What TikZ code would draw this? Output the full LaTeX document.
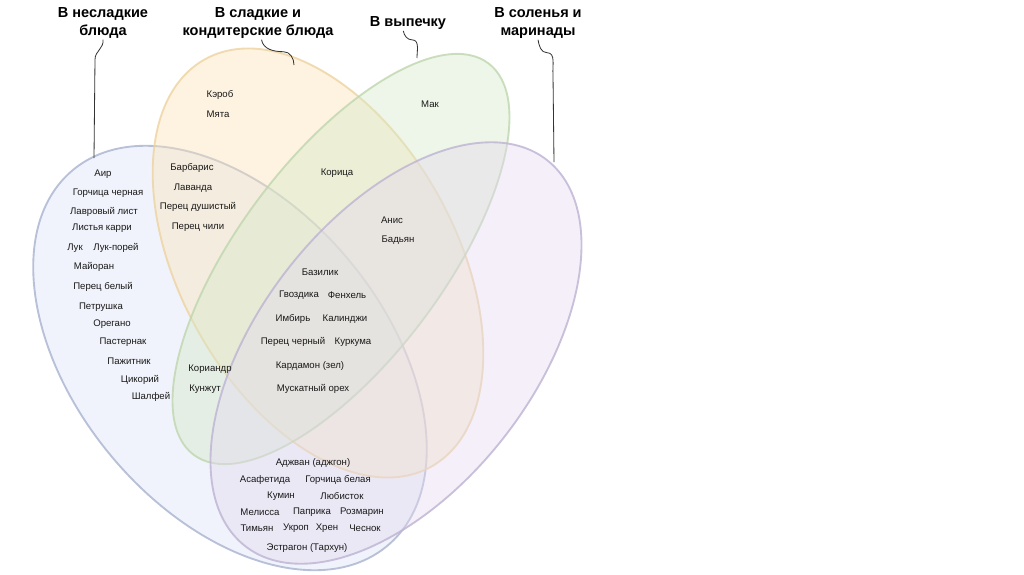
\documentclass[tikz,border=0pt]{standalone}
\usepackage{fontspec}
\setmainfont{Liberation Sans}
\usepackage{xcolor}
\usetikzlibrary{positioning}

\definecolor{bluefill}{HTML}{DCE3F6}
\definecolor{blueedge}{HTML}{A9B3CF}
\definecolor{orangefill}{HTML}{FBE2B6}
\definecolor{orangeedge}{HTML}{EDD3A0}
\definecolor{greenfill}{HTML}{D5E9C8}
\definecolor{greenedge}{HTML}{BFD6AE}
\definecolor{purplefill}{HTML}{E4D9EF}
\definecolor{purpleedge}{HTML}{BDB3D2}

\begin{document}
\begin{tikzpicture}[x=0.03cm, y=-0.03cm,
    setshape/.style={line width=1.6pt, fill opacity=0.42, draw opacity=0.8},
    blueset/.style={fill=bluefill, draw=blueedge},
    orangeset/.style={fill=orangefill, draw=orangeedge},
    greenset/.style={fill=greenfill, draw=greenedge},
    purpleset/.style={fill=purplefill, draw=purpleedge},
    settitle/.style={font=\fontsize{12.4}{15}\selectfont\bfseries, align=center, inner sep=1pt},
    spice/.style={font=\fontsize{8.2}{9}\selectfont, text=black!90, inner sep=0pt},
    callout/.style={draw=black!80, line width=0.7pt}]
\useasboundingbox (0,0) rectangle (1024,574);

% the four sets
\draw[setshape, blueset, rotate around={-50:(230,358)}] (230,358) ellipse [x radius=245, y radius=154];
\draw[setshape, orangeset, rotate around={-61:(318,263)}] (318,263) ellipse [x radius=233, y radius=138];
\draw[setshape, greenset, rotate around={53:(341,259)}] (341,259) ellipse [x radius=245, y radius=102];
\draw[setshape, purpleset, rotate around={52:(396,353)}] (396,353) ellipse [x radius=245, y radius=137];

% titles and callouts
\node[settitle] (tblue) at (103,23) {В несладкие\\блюда};
\node[settitle] (torange) at (258,23) {В сладкие и\\кондитерские блюда};
\node[settitle] (tgreen) at (408,23) {В выпечку};
\node[settitle] (tpurple) at (538,23) {В соленья и\\маринады};

\coordinate (eblue) at (94,158);
\coordinate (eorange) at (294,65);
\coordinate (egreen) at (417,58);
\coordinate (epurple) at (554,162);

\draw[callout] (tblue.south) .. controls +(1,9) and +(0,-9) .. ++(-8,20) -- (eblue);
\draw[callout] ([xshift=3pt]torange.south) to[out=-80, in=180] ++(22,12) to[out=0, in=90] (eorange);
\draw[callout] ([xshift=-4pt]tgreen.south) to[out=-80, in=180] ++(9,9) to[out=0, in=90] (egreen);
\draw[callout] (tpurple.south) to[out=-80, in=180] ++(9,13) to[out=0, in=95] ++(6,22) -- (epurple);

% only savoury dishes
\node[spice] (air) at (103,174) {Аир};
\node[spice] (gorch) at (108,193) {Горчица черная};
\node[spice] (lavr) at (104,212) {Лавровый лист};
\node[spice] (karri) at (102,228) {Листья карри};
\node[spice] (luk) at (75,248) {Лук};
\node[spice] (lukpor) at (116,248) {Лук-порей};
\node[spice] (mayor) at (94,267) {Майоран};
\node[spice] (perbel) at (103,287) {Перец белый};
\node[spice] (petr) at (101,307) {Петрушка};
\node[spice] (oreg) at (112,324) {Орегано};
\node[spice] (paster) at (123,342) {Пастернак};
\node[spice] (pazh) at (129,361) {Пажитник};
\node[spice] (tsik) at (140,380) {Цикорий};
\node[spice] (shalf) at (151,397) {Шалфей};

% savoury and sweet
\node[spice] (barb) at (192,168) {Барбарис};
\node[spice] (lavan) at (193,188) {Лаванда};
\node[spice] (perdush) at (198,207) {Перец душистый};
\node[spice] (perchil) at (198,227) {Перец чили};

% only sweet
\node[spice] (kerob) at (220,95) {Кэроб};
\node[spice] (myata) at (218,114) {Мята};

% only baking
\node[spice] (mak) at (430,104) {Мак};

% sweet and baking
\node[spice] (koritsa) at (337,173) {Корица};
\node[spice] (anis) at (392,220) {Анис};
\node[spice] (badyan) at (398,240) {Бадьян};

% all four
\node[spice] (bazil) at (320,272) {Базилик};
\node[spice] (gvozd) at (299,295) {Гвоздика};
\node[spice] (fenh) at (347,295) {Фенхель};
\node[spice] (imbir) at (293,319) {Имбирь};
\node[spice] (kalin) at (345,319) {Калинджи};
\node[spice] (percher) at (293,342) {Перец черный};
\node[spice] (kurk) at (353,342) {Куркума};
\node[spice] (kard) at (310,366) {Кардамон (зел)};
\node[spice] (musk) at (313,389) {Мускатный орех};

% savoury and baking
\node[spice] (korian) at (210,369) {Кориандр};
\node[spice] (kunzh) at (205,389) {Кунжут};

% savoury and pickles
\node[spice] (adzh) at (313,463) {Аджван (аджгон)};
\node[spice] (asaf) at (265,480) {Асафетида};
\node[spice] (gorbel) at (338,480) {Горчица белая};
\node[spice] (kumin) at (281,496) {Кумин};
\node[spice] (lyub) at (342,496) {Любисток};
\node[spice] (melis) at (260,512) {Мелисса};
\node[spice] (papr) at (312,512) {Паприка};
\node[spice] (rozm) at (362,512) {Розмарин};
\node[spice] (timyan) at (257,528) {Тимьян};
\node[spice] (ukrop) at (296,528) {Укроп};
\node[spice] (hren) at (327,528) {Хрен};
\node[spice] (chesn) at (365,528) {Чеснок};
\node[spice] (estr) at (307,548) {Эстрагон (Тархун)};
\end{tikzpicture}
\end{document}
